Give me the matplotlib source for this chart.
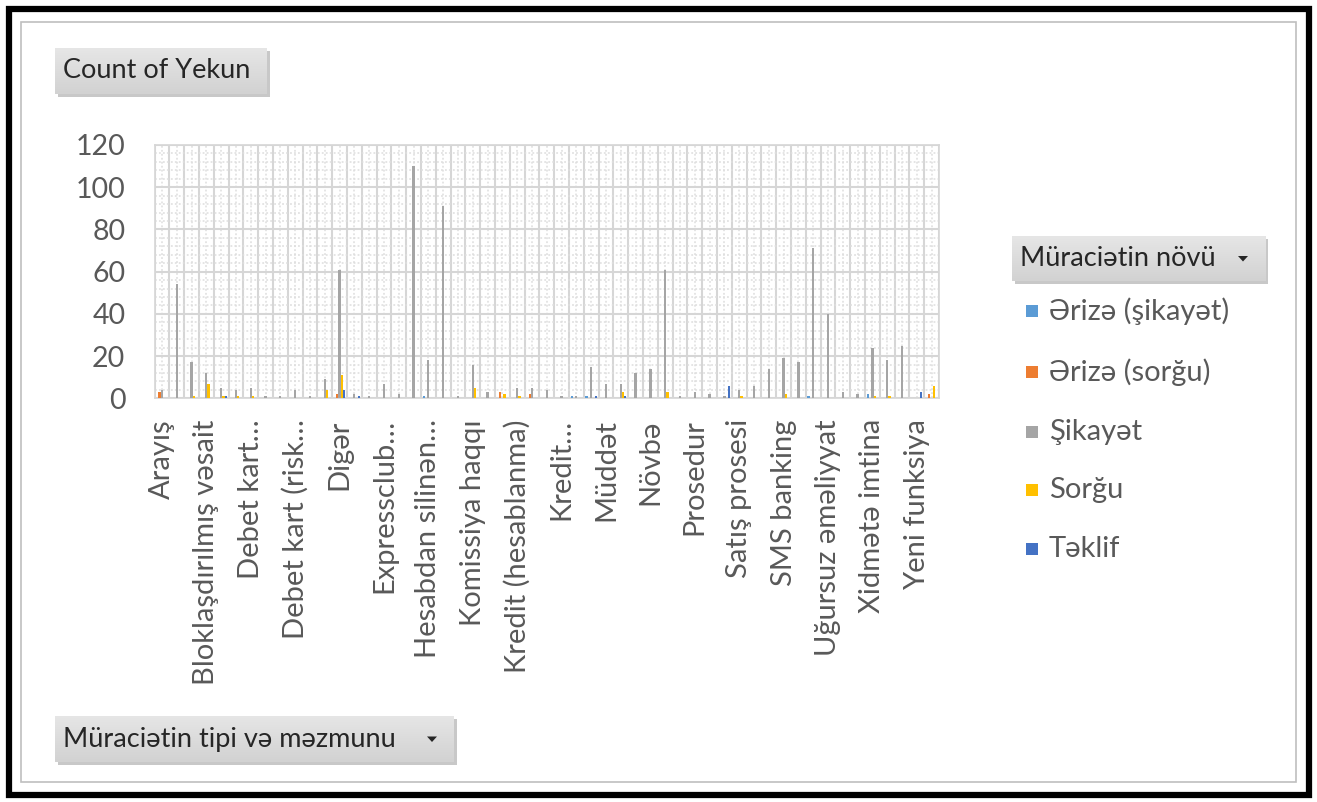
import matplotlib
matplotlib.use('Agg')
import matplotlib.pyplot as plt
import numpy as np
from matplotlib.patches import Rectangle, Polygon

W, H = 1317, 802
plt.rcParams['font.family'] = ['Lato', 'DejaVu Sans']

# ---------------- data ----------------
series_names = ['Ərizə (şikayət)', 'Ərizə (sorğu)', 'Şikayət', 'Sorğu', 'Təklif']
series_colors = ['#5B9BD5', '#ED7D31', '#A5A5A5', '#FFC000', '#4472C4']

# 53 categories, only every third one is labelled on the axis
visible_labels = ['Arayış', 'Bloklaşdırılmış vəsait', 'Debet kart…', 'Debet kart (risk…',
                  'Digər', 'Expressclub…', 'Hesabdan silinən…', 'Komissiya haqqı',
                  'Kredit (hesablanma)', 'Kredit…', 'Müddət', 'Növbə', 'Prosedur',
                  'Satış prosesi', 'SMS banking', 'Uğursuz əməliyyat', 'Xidmətə imtina',
                  'Yeni funksiya']
n_categories = 53

erize_sikayet = [0, 0, 0, 0, 0, 0, 0, 0, 0, 0,
                 0, 0, 0, 0, 0, 0, 0, 0, 1, 0,
                 0, 0, 0, 0, 0, 0, 0, 0, 1, 1,
                 0, 0, 0, 0, 0, 0, 0, 0, 0, 0,
                 0, 0, 0, 0, 1, 0, 0, 0, 2, 0,
                 0, 0, 0]
erize_sorgu = [3, 0, 0, 0, 0, 0, 0, 0, 0, 0,
               0, 0, 2, 0, 0, 0, 0, 0, 0, 0,
               0, 0, 0, 3, 0, 2, 0, 0, 0, 0,
               0, 0, 0, 0, 0, 0, 0, 0, 0, 0,
               0, 0, 0, 0, 0, 0, 0, 0, 0, 0,
               0, 0, 2]
sikayet = [4, 54, 17, 12, 5, 4, 5, 1, 1, 4,
           1, 9, 61, 2, 1, 7, 2, 110, 18, 91,
           1, 16, 3, 0, 5, 5, 4, 1, 1, 15,
           7, 7, 12, 14, 61, 1, 3, 2, 1, 4,
           6, 14, 19, 17, 71, 40, 3, 2, 24, 18,
           25, 0, 0]
sorgu = [0, 0, 1, 7, 1, 1, 1, 0, 0, 0,
         0, 4, 11, 0, 0, 0, 0, 0, 0, 0,
         0, 5, 0, 2, 1, 0, 0, 0, 0, 0,
         0, 3, 0, 0, 3, 0, 0, 0, 0, 1,
         0, 0, 2, 0, 0, 0, 0, 0, 1, 1,
         0, 0, 6]
teklif = [0, 0, 0, 0, 1, 0, 0, 0, 0, 0,
          0, 0, 4, 1, 0, 0, 0, 0, 0, 0,
          0, 0, 0, 0, 0, 0, 0, 0, 0, 1,
          0, 1, 0, 0, 0, 0, 0, 0, 6, 0,
          0, 0, 0, 0, 0, 0, 0, 0, 0, 0,
          0, 3, 0]
series_values = [erize_sikayet, erize_sorgu, sikayet, sorgu, teklif]

y_ticks = [0, 20, 40, 60, 80, 100, 120]

# ---------------- helpers ----------------
def fx(x):
    return x / W

def fy(y):
    return 1 - y / H

fig = plt.figure(figsize=(W / 100, H / 100), dpi=100)
fig.patch.set_facecolor('white')

# outer frame
fig.patches.append(Rectangle((fx(9), fy(795)), fx(1300), (786) / H, transform=fig.transFigure,
                             fill=False, edgecolor='black', linewidth=4.5))
fig.patches.append(Rectangle((fx(21), fy(782)), fx(1275), (760) / H, transform=fig.transFigure,
                             fill=False, edgecolor='#bfbfbf', linewidth=1.2))


def button(x0, y0, x1, y1, text, arrow_x=None, fs=19.5):
    # shadow
    fig.patches.append(Rectangle((fx(x0 + 3), fy(y1 + 3)), fx(x1 - x0), (y1 - y0) / H,
                                 transform=fig.transFigure, facecolor='#c8c8c8',
                                 edgecolor='none', zorder=1))
    bax = fig.add_axes([fx(x0), fy(y1), fx(x1 - x0), (y1 - y0) / H], zorder=2)
    grad = np.linspace(0, 1, 64).reshape(-1, 1)
    bax.imshow(grad, aspect='auto', cmap=matplotlib.colors.LinearSegmentedColormap.from_list(
        'g', ['#e6e6e6', '#d2d2d2']), extent=(0, 1, 0, 1), origin='upper')
    bax.set_axis_off()
    fig.text(fx(x0 + 8), fy((y0 + y1) / 2), text, fontsize=fs, color='#262626',
             ha='left', va='center', zorder=3)
    if arrow_x is not None:
        cy = (y0 + y1) / 2
        tri = Polygon([(fx(arrow_x - 5), fy(cy - 2.5)), (fx(arrow_x + 5), fy(cy - 2.5)),
                       (fx(arrow_x), fy(cy + 3))], closed=True, transform=fig.transFigure,
                      facecolor='#262626', edgecolor='none', zorder=4)
        fig.patches.append(tri)


button(55, 48, 267, 94, 'Count of Yekun')
button(55, 716, 454, 762, 'Müraciətin tipi və məzmunu', arrow_x=432)
button(1012, 236, 1265, 281, 'Müraciətin növü', arrow_x=1243)

# ---------------- main plot ----------------
left, right, top, bottom = 154.5, 939.0, 145.0, 398.3
ax = fig.add_axes([fx(left), fy(bottom), fx(right - left), (bottom - top) / H], zorder=5)
ax.set_facecolor('white')

x = np.arange(n_categories)
gap = 1.5
bw = 1.0 / (5 + gap)
for k, (vals, col, name) in enumerate(zip(series_values, series_colors, series_names)):
    ax.bar(x + (k - 2) * bw, vals, width=bw, color=col, label=name, linewidth=0, zorder=3)

ax.set_xlim(-0.5, n_categories - 0.5)
ax.set_ylim(0, 120)
ax.set_yticks(y_ticks)
ax.set_xticks(x[::3])
ax.set_xticklabels(visible_labels, rotation=90, fontsize=21, color='#595959')
ax.tick_params(axis='x', which='both', length=0, pad=15)
ax.tick_params(axis='y', which='both', length=0, pad=21, labelsize=20.5, labelcolor='#595959')

ax.grid(False)
for v in np.arange(-0.5, n_categories, 1.0):
    ax.axvline(v, color='#d6d6d6', linewidth=1.5, zorder=1)
for v in x:
    ax.axvline(v, color='#dedede', linewidth=1.1, linestyle=(0, (1.2, 1.4)), zorder=1)
for v in y_ticks:
    ax.axhline(v, color='#d6d6d6', linewidth=1.5, zorder=1)
for v in np.arange(0, 121, 4):
    if v % 20:
        ax.axhline(v, color='#dedede', linewidth=1.1, linestyle=(0, (1.2, 1.4)), zorder=1)

for s in ax.spines.values():
    s.set_color('#d6d6d6')
    s.set_linewidth(1.2)

# ---------------- legend ----------------
leg_rows = [311, 372, 432, 490, 549]
for name, col, yy in zip(series_names, series_colors, leg_rows):
    fig.patches.append(Rectangle((fx(1026), fy(yy + 6)), fx(12), 12 / H,
                                 transform=fig.transFigure, facecolor=col, edgecolor='none'))
    fig.text(fx(1049), fy(yy), name, fontsize=21, color='#595959', ha='left', va='center')

fig.savefig('out.png', dpi=100, facecolor='white')
